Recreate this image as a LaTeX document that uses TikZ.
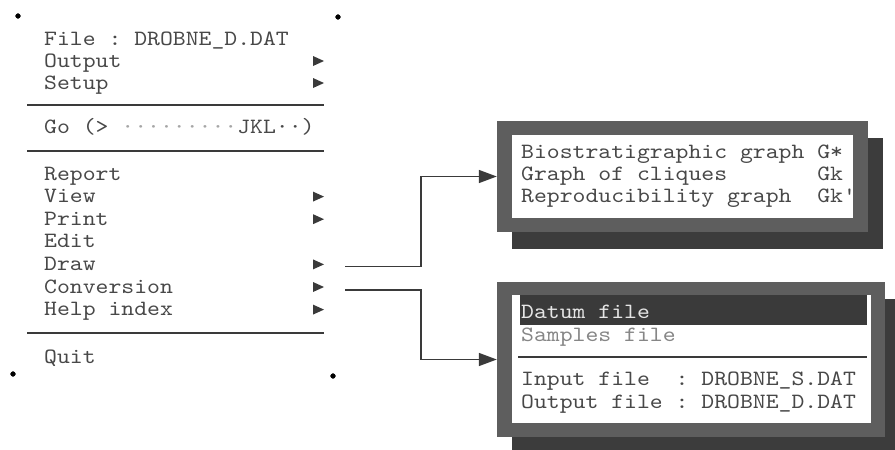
\documentclass[tikz,border=0pt]{standalone}
\usepackage{fontspec}
\setmonofont{lmmono10-regular.otf}[FakeStretch=1.125]
\usepackage{tikz}
\usetikzlibrary{arrows.meta}
\usetikzlibrary{shadows}
\usepackage{xcolor}
\definecolor{txtgray}{HTML}{484848}
\definecolor{linegray}{HTML}{3A3A3A}
\definecolor{framegray}{HTML}{5E5E5E}
\definecolor{shadegray}{HTML}{3C3C3C}

\newcommand{\menutri}[1]{\fill[linegray] (313,#1-11) -- (324,#1-6) -- (313,#1-1) -- cycle;}

\begin{document}
\begin{tikzpicture}[x=1pt,y=-1pt,
  item/.style={anchor=base west, inner sep=0pt, text=txtgray,
    font=\ttfamily\fontsize{21.8}{22}\selectfont},
  rule/.style={line width=1.6pt, linegray},
  conn/.style={line width=1.6pt, linegray, -{Triangle[length=18pt,width=13pt]}},
  frame/.style={fill=framegray, inner sep=0pt,
    drop shadow={shadow xshift=15pt, shadow yshift=-17pt, fill=shadegray, opacity=1}},
  pane/.style={fill=white, inner sep=0pt}]

\useasboundingbox (0,0) rectangle (895,450);

% main menu
\draw[radius=2.4, fill=black] (18,16) circle;
\draw[radius=2.4, fill=black] (338,17) circle;
\draw[radius=2.4, fill=black] (13,374) circle;
\draw[radius=2.4, fill=black] (333,376) circle;

\node[item] (file) at (44,45) {File : DROBNE\_D.DAT};
\node[item] (output) at (44,67) {Output};
\node[item] (setup) at (44,89) {Setup};
\draw[rule] (27,105) -- (324,105);
\node[item] (go) at (44,133) {Go (> {\color{gray!70}·········}JKL··)};
\draw[rule] (27,151) -- (324,151);
\node[item] (report) at (44,180) {Report};
\node[item] (view) at (44,202.6) {View};
\node[item] (print) at (44,225.2) {Print};
\node[item] (edit) at (44,247.8) {Edit};
\node[item] (draw) at (44,270.4) {Draw};
\node[item] (conv) at (44,293) {Conversion};
\node[item] (help) at (44,315.6) {Help index};
\draw[rule] (27,333) -- (324,333);
\node[item] (quit) at (44,363) {Quit};

\menutri{67}
\menutri{89}
\menutri{202.6}
\menutri{225.2}
\menutri{270.4}
\menutri{293}
\menutri{315.6}

% graph window
\node[frame, minimum width=371pt, minimum height=111pt] (grbox) at (682.5,176.5) {};
\node[pane, minimum width=341pt, minimum height=83pt] (grpane) at (grbox.center) {};
\node[item] (bio) at (521,158) {Biostratigraphic graph G*};
\node[item] (cliq) at (521,180) {Graph of cliques~~~~~~~Gk};
\node[item] (repr) at (521,202) {Reproducibility graph~~Gk'};

% conversion window
\node[frame, minimum width=388pt, minimum height=155pt] (cvbox) at (691,359.5) {};
\node[pane, minimum width=359pt, minimum height=128pt] (cvpane) at (691.5,359) {};
\node[fill=linegray, inner sep=0pt, minimum width=347pt, minimum height=30pt] (datbar) at (693.5,310) {};
\node[item, text=gray!20] (datum) at (521,318) {Datum file};
\node[item, text=gray!95] (samp) at (521,341) {Samples file};
\draw[rule] (518,357) -- (867,357);
\node[item] (infile) at (521,385) {Input file~~: DROBNE\_S.DAT};
\node[item] (outfile) at (521,408) {Output file : DROBNE\_D.DAT};

% connectors
\coordinate (drawend) at (345,266.5);
\coordinate (convend) at (345,290);
\draw[conn] (drawend) -- ++(76,0) |- (grbox.west);
\draw[conn] (convend) -- ++(76,0) |- (cvbox.west);

\end{tikzpicture}
\end{document}
